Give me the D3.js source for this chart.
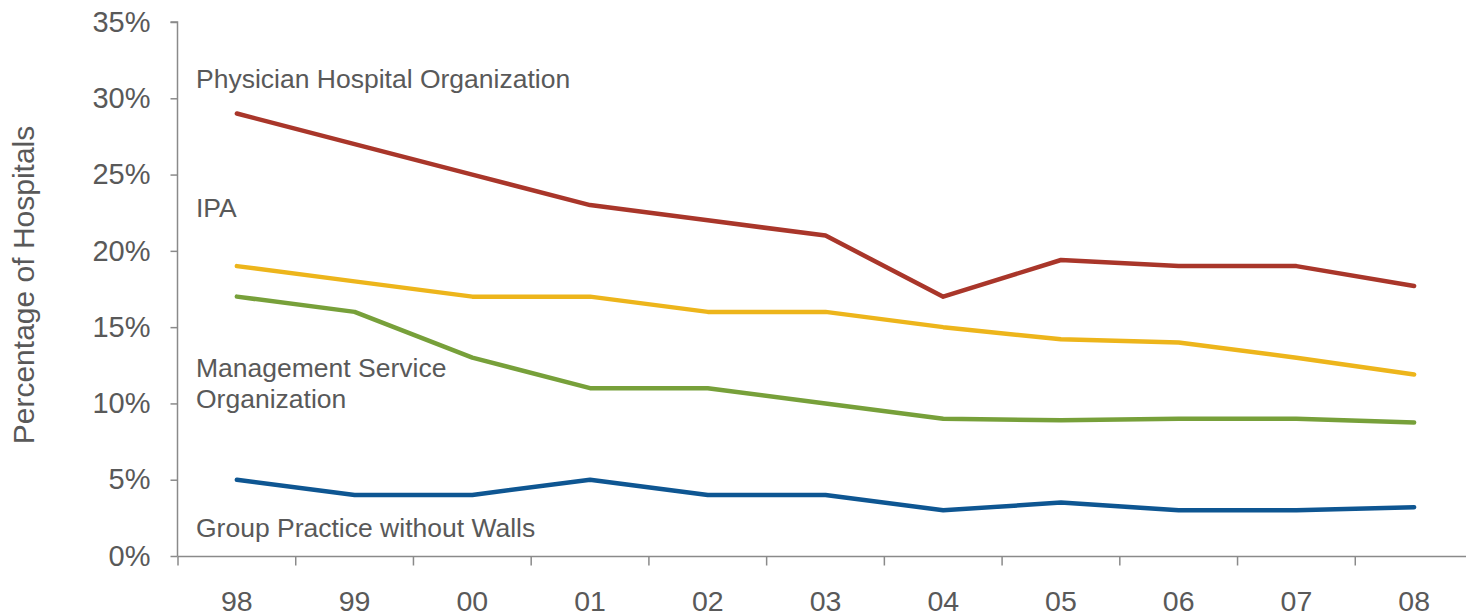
<!DOCTYPE html>
<html>
<head>
<meta charset="utf-8">
<script src="https://cdn.jsdelivr.net/npm/d3@7"></script>
<style>
  html, body { margin: 0; padding: 0; background: #fff; }
  svg { display: block; }
  text { font-family: "Liberation Sans", Arial, sans-serif; fill: #595959; }
</style>
</head>
<body>
<svg id="chart" width="1466" height="615"></svg>
<script>
const categories = ["98", "99", "00", "01", "02", "03", "04", "05", "06", "07", "08"];
const pho  = [29, 27, 25, 23, 22, 21, 17, 19.4, 19, 19, 17.7];
const ipa  = [19, 18, 17, 17, 16, 16, 15, 14.2, 14, 13, 11.9];
const mso  = [17, 16, 13, 11, 11, 10, 9, 8.9, 9, 9, 8.75];
const gpww = [5, 4, 4, 5, 4, 4, 3, 3.5, 3, 3, 3.2];
const yTicks = [0, 5, 10, 15, 20, 25, 30, 35];
const seriesNames = ["Physician Hospital Organization", "IPA", "Management Service Organization", "Group Practice without Walls"];
const colors = ["#A9362A", "#EDB51B", "#77A03A", "#0E5692"];

const svg = d3.select("#chart");
const mLeft = 178, mRight = 1473, mTop = 22, mBottom = 556;

const x = d3.scaleBand().domain(categories).range([mLeft, mRight]).padding(0);
const y = d3.scaleLinear().domain([0, 35]).range([mBottom, mTop]);

// Y axis
const yAxis = d3.axisLeft(y).tickValues(yTicks).tickSize(7).tickPadding(20).tickFormat(d => d + "%");
const gy = svg.append("g").attr("transform", `translate(${mLeft - 0.5},0)`).call(yAxis);
gy.select(".domain").attr("stroke", "#8a8a8a").attr("stroke-width", 1.5).attr("d", `M-7,${y(35)}H0V${y(0)}`);
gy.selectAll(".tick line").attr("stroke", "#8a8a8a").attr("stroke-width", 1.5);
gy.selectAll(".tick text").attr("font-size", 29).attr("fill", "#595959")
  .attr("font-family", "Liberation Sans, Arial, sans-serif");

// X axis
const gx = svg.append("g").attr("transform", `translate(0,${mBottom + 0.5})`);
gx.append("line").attr("x1", mLeft - 0.5).attr("x2", mRight + 10).attr("y1", 0).attr("y2", 0)
  .attr("stroke", "#8a8a8a").attr("stroke-width", 1.5);
const bounds = categories.map(c => x(c)).concat([x(categories[categories.length - 1]) + x.bandwidth()]);
gx.selectAll("line.tk").data(bounds).enter().append("line").attr("class", "tk")
  .attr("x1", d => d).attr("x2", d => d).attr("y1", 0).attr("y2", 9)
  .attr("stroke", "#8a8a8a").attr("stroke-width", 1.5);
gx.selectAll("text").data(categories).enter().append("text")
  .attr("x", d => x(d) + x.bandwidth() / 2).attr("y", 54.5)
  .attr("text-anchor", "middle").attr("font-size", 28.5).text(d => d);

// Y title
svg.append("text").attr("transform", "translate(34,285) rotate(-90)")
  .attr("text-anchor", "middle").attr("font-size", 30).text("Percentage of Hospitals");

// Lines
const line = d3.line().x((d, i) => x(categories[i]) + x.bandwidth() / 2).y(d => y(d));
[pho, ipa, mso, gpww].forEach((s, k) => {
  svg.append("path").datum(s).attr("d", line).attr("fill", "none")
    .attr("stroke", colors[k]).attr("stroke-width", 4.5)
    .attr("stroke-linejoin", "round").attr("stroke-linecap", "round");
});

// Series labels
const lab = [
  { lines: ["Physician Hospital Organization"], y: 88 },
  { lines: ["IPA"], y: 217 },
  { lines: ["Management Service", "Organization"], y: 377 },
  { lines: ["Group Practice without Walls"], y: 537 }
];
lab.forEach((l, k) => {
  const t = svg.append("text").attr("x", 196).attr("y", l.y).attr("font-size", 26.5);
  l.lines.forEach((ln, j) => {
    t.append("tspan").attr("x", 196).attr("dy", j === 0 ? 0 : 31).text(ln);
  });
});
</script>
</body>
</html>
